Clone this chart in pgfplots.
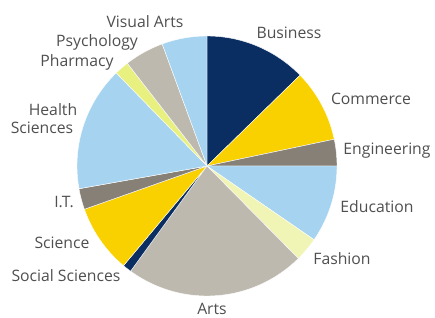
\documentclass[border=0pt]{standalone}
\usepackage{pgfplots}
\pgfplotsset{compat=1.18}
\usepackage{pgfplotstable}
\usepackage{fontspec}
\setmainfont{Open Sans}
\definecolor{cnavy}{HTML}{0B2E62}
\definecolor{cgold}{HTML}{F9D100}
\definecolor{ctaupe}{HTML}{878076}
\definecolor{cblue}{HTML}{A6D4F0}
\definecolor{cpale}{HTML}{F0F4B4}
\definecolor{cpaleb}{HTML}{E8F080}
\definecolor{cbeige}{HTML}{BDB9AF}
\definecolor{textgray}{HTML}{4F4F4F}

\pgfplotstableread[col sep=comma]{
name,value,col
Business,12.7,cnavy
Commerce,9.0,cgold
Engineering,3.3,ctaupe
Education,9.6,cblue
Fashion,3.0,cpale
Arts,22.4,cbeige
Social Sciences,1.1,cnavy
Science,8.5,cgold
I.T.,2.6,ctaupe
Health Sciences,15.5,cblue
Pharmacy,1.8,cpaleb
Psychology,4.9,cbeige
Visual Arts,5.6,cblue
}\piedata

\begin{document}
\begin{tikzpicture}[lbl/.style={font=\fontsize{15.8}{18}\selectfont, text=textgray, inner sep=0pt}]
\pgfplotstablegetrowsof{\piedata}
\pgfmathtruncatemacro\lastrow{\pgfplotsretval-1}
\begin{axis}[
  width=435bp, height=318bp, scale only axis,
  xmin=0, xmax=435, ymin=0, ymax=318,
  axis line style={draw=none}, xtick=\empty, ytick=\empty,
  clip=false,
]
\xdef\cum{90}
\pgfplotsforeachungrouped \i in {0,...,\lastrow}{%
  \pgfplotstablegetelem{\i}{value}\of\piedata \let\v\pgfplotsretval
  \pgfplotstablegetelem{\i}{col}\of\piedata \let\c\pgfplotsretval
  \pgfmathsetmacro\sb{\cum-\v*3.6}%
  \edef\doit{\noexpand\addplot[fill=\c, draw=white, line width=0.4pt, domain=\sb:\cum, samples=60, variable=\noexpand\t] ({207+130*cos(\noexpand\t)},{152+130*sin(\noexpand\t)}) -- (axis cs:207,152) -- cycle;}%
  \doit
  \xdef\cum{\sb}%
}
\node[lbl] at (axis cs:145,296) {Visual Arts};
\node[lbl] at (axis cs:289,285) {Business};
\node[lbl] at (axis cs:97,276) {Psychology};
\node[lbl] at (axis cs:77,256) {Pharmacy};
\node[lbl] at (axis cs:371,219) {Commerce};
\node[lbl] at (axis cs:53,208) {Health};
\node[lbl] at (axis cs:42,190) {Sciences};
\node[lbl] at (axis cs:387,167) {Engineering};
\node[lbl] at (axis cs:64,116) {I.T.};
\node[lbl] at (axis cs:377,111) {Education};
\node[lbl] at (axis cs:62,75) {Science};
\node[lbl] at (axis cs:342,59) {Fashion};
\node[lbl] at (axis cs:66,42) {Social Sciences};
\node[lbl] at (axis cs:212,9) {Arts};
\end{axis}
\end{tikzpicture}
\end{document}
